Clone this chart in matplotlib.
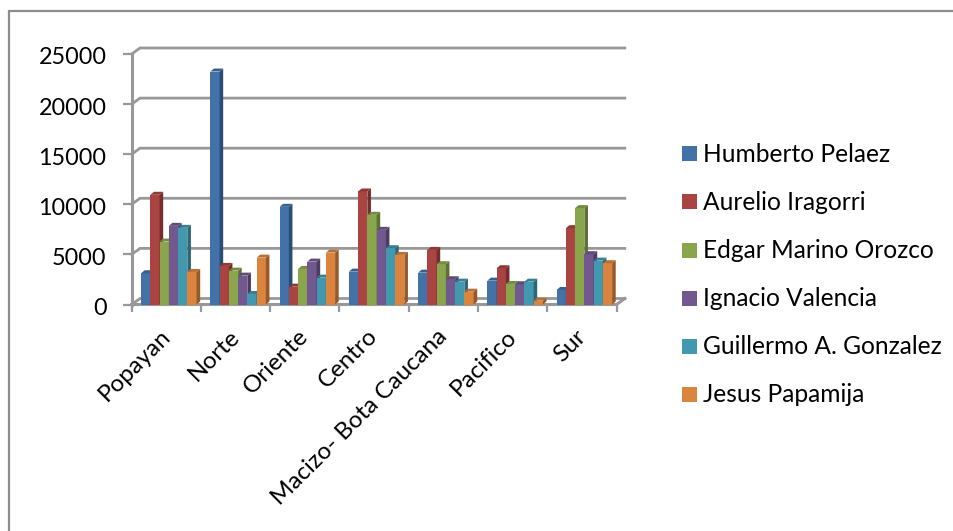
import matplotlib
matplotlib.use('Agg')
import matplotlib.pyplot as plt
from matplotlib.patches import Polygon, Rectangle
from matplotlib.transforms import ScaledTranslation

plt.rcParams['font.family'] = ['Lato', 'DejaVu Sans']

regions = ['Popayan', 'Norte', 'Oriente', 'Centro', 'Macizo- Bota Caucana', 'Pacifico', 'Sur']
humberto = [3120, 23250, 9750, 3280, 3180, 2380, 1450]
aurelio = [10950, 3850, 1780, 11280, 5450, 3620, 7620]
edgar = [6280, 3380, 3550, 8950, 4020, 2050, 9620]
ignacio = [7850, 2880, 4280, 7450, 2520, 2020, 5020]
guillermo = [7650, 1050, 2680, 5620, 2280, 2280, 4380]
jesus = [3250, 4680, 5180, 4950, 1280, 380, 4120]
series_names = ['Humberto Pelaez', 'Aurelio Iragorri', 'Edgar Marino Orozco',
                'Ignacio Valencia', 'Guillermo A. Gonzalez', 'Jesus Papamija']
series_values = [humberto, aurelio, edgar, ignacio, guillermo, jesus]
front_colors = ['#4272a8', '#aa4442', '#8aa64c', '#71588f', '#4298af', '#db843d']
side_colors = ['#2c4d73', '#742e2d', '#5e7134', '#4c3c61', '#2d6777', '#955a29']
top_colors = ['#36608d', '#8f3937', '#748c40', '#5f4a78', '#377f93', '#b86f33']
y_ticks = [0, 5000, 10000, 15000, 20000, 25000]

W, H = 954, 531
GRID = '#989898'

fig = plt.figure(figsize=(W / 100, H / 100), dpi=100)
bg = fig.add_axes([0, 0, 1, 1])
bg.set_xlim(0, W)
bg.set_ylim(H, 0)
bg.axis('off')
# outer chart frame
bg.plot([9.5, 9.5, W], [H, 11, 11], color='#8c8c8c', lw=1.6, solid_joinstyle='miter')

# front plane of the fake 3d box
left, right, y0, y_top = 131.7, 616.5, 304.5, 54
ax = fig.add_axes([left / W, 1 - y0 / H, (right - left) / W, (y0 - y_top) / H])
ax.set_xlim(0, len(regions))
ax.set_ylim(0, 25000)
ax.patch.set_visible(False)
for s in ax.spines.values():
    s.set_visible(False)

px_x = len(regions) / (right - left)
px_y = 25000 / (y0 - y_top)
wall_dx, wall_dy = 8.3 * px_x, 6 * px_y
bar_dx, bar_dy = 3.6 * px_x, 3 * px_y
bar_w = 9.25 * px_x
group_w = bar_w * len(series_values)

# back wall gridlines, side wall connectors, floor
for v in y_ticks:
    ax.plot([0, wall_dx, len(regions) + wall_dx], [v, v + wall_dy, v + wall_dy],
            color=GRID, lw=2, clip_on=False, zorder=1, solid_joinstyle='miter')
ax.plot([0, 0], [0, 25000], color=GRID, lw=2.2, clip_on=False, zorder=2)
ax.plot([0, len(regions), len(regions) + wall_dx], [0, 0, wall_dy],
        color=GRID, lw=2.2, clip_on=False, zorder=2, solid_joinstyle='miter')

# bars with top and side faces
for i, r in enumerate(regions):
    start = i + (1 - group_w) / 2 + 2.5 * px_x
    for j, vals in enumerate(series_values):
        v = vals[i]
        x = start + j * bar_w
        ax.bar(x, v, bar_w, align='edge', color=front_colors[j], zorder=5 + j, clip_on=False)
        ax.add_patch(Polygon([(x + bar_w, 0), (x + bar_w + bar_dx, bar_dy),
                              (x + bar_w + bar_dx, v + bar_dy), (x + bar_w, v)],
                             facecolor=side_colors[j], edgecolor='none', zorder=5 + j, clip_on=False))
        ax.add_patch(Polygon([(x, v), (x + bar_dx, v + bar_dy),
                              (x + bar_w + bar_dx, v + bar_dy), (x + bar_w, v)],
                             facecolor=top_colors[j], edgecolor='none', zorder=5 + j, clip_on=False))

ax.set_yticks(y_ticks)
ax.set_yticklabels([str(v) for v in y_ticks], fontsize=16.8, color='black')
ax.set_xticks(range(len(regions) + 1))
ax.set_xticklabels([''] * (len(regions) + 1))
ax.tick_params(axis='y', length=6.2, width=1.6, color=GRID, pad=12)
ax.tick_params(axis='x', length=5.2, width=1.6, color=GRID)

# nudge the value labels down a little
label_shift = ScaledTranslation(0, -2 / 100, fig.dpi_scale_trans)
for lab in ax.get_yticklabels():
    lab.set_transform(lab.get_transform() + label_shift)

# rotated category labels, right end anchored under each group
for i, r in enumerate(regions):
    ax.annotate(r, xy=(i + 0.5, 0), xytext=(-7, -21), textcoords='offset pixels',
                rotation=45, rotation_mode='anchor', ha='right', va='top',
                fontsize=17.4, color='black', annotation_clip=False)

# legend
leg_y = [154, 202, 251, 299, 347, 395]
for name, c, y in zip(series_names, front_colors, leg_y):
    bg.add_patch(Rectangle((682, y - 8.5), 15, 15, facecolor=c, edgecolor='none'))
    bg.text(703, y, name, fontsize=17.65, va='center', ha='left', color='black')

fig.savefig('out.png', dpi=100, facecolor='white')
